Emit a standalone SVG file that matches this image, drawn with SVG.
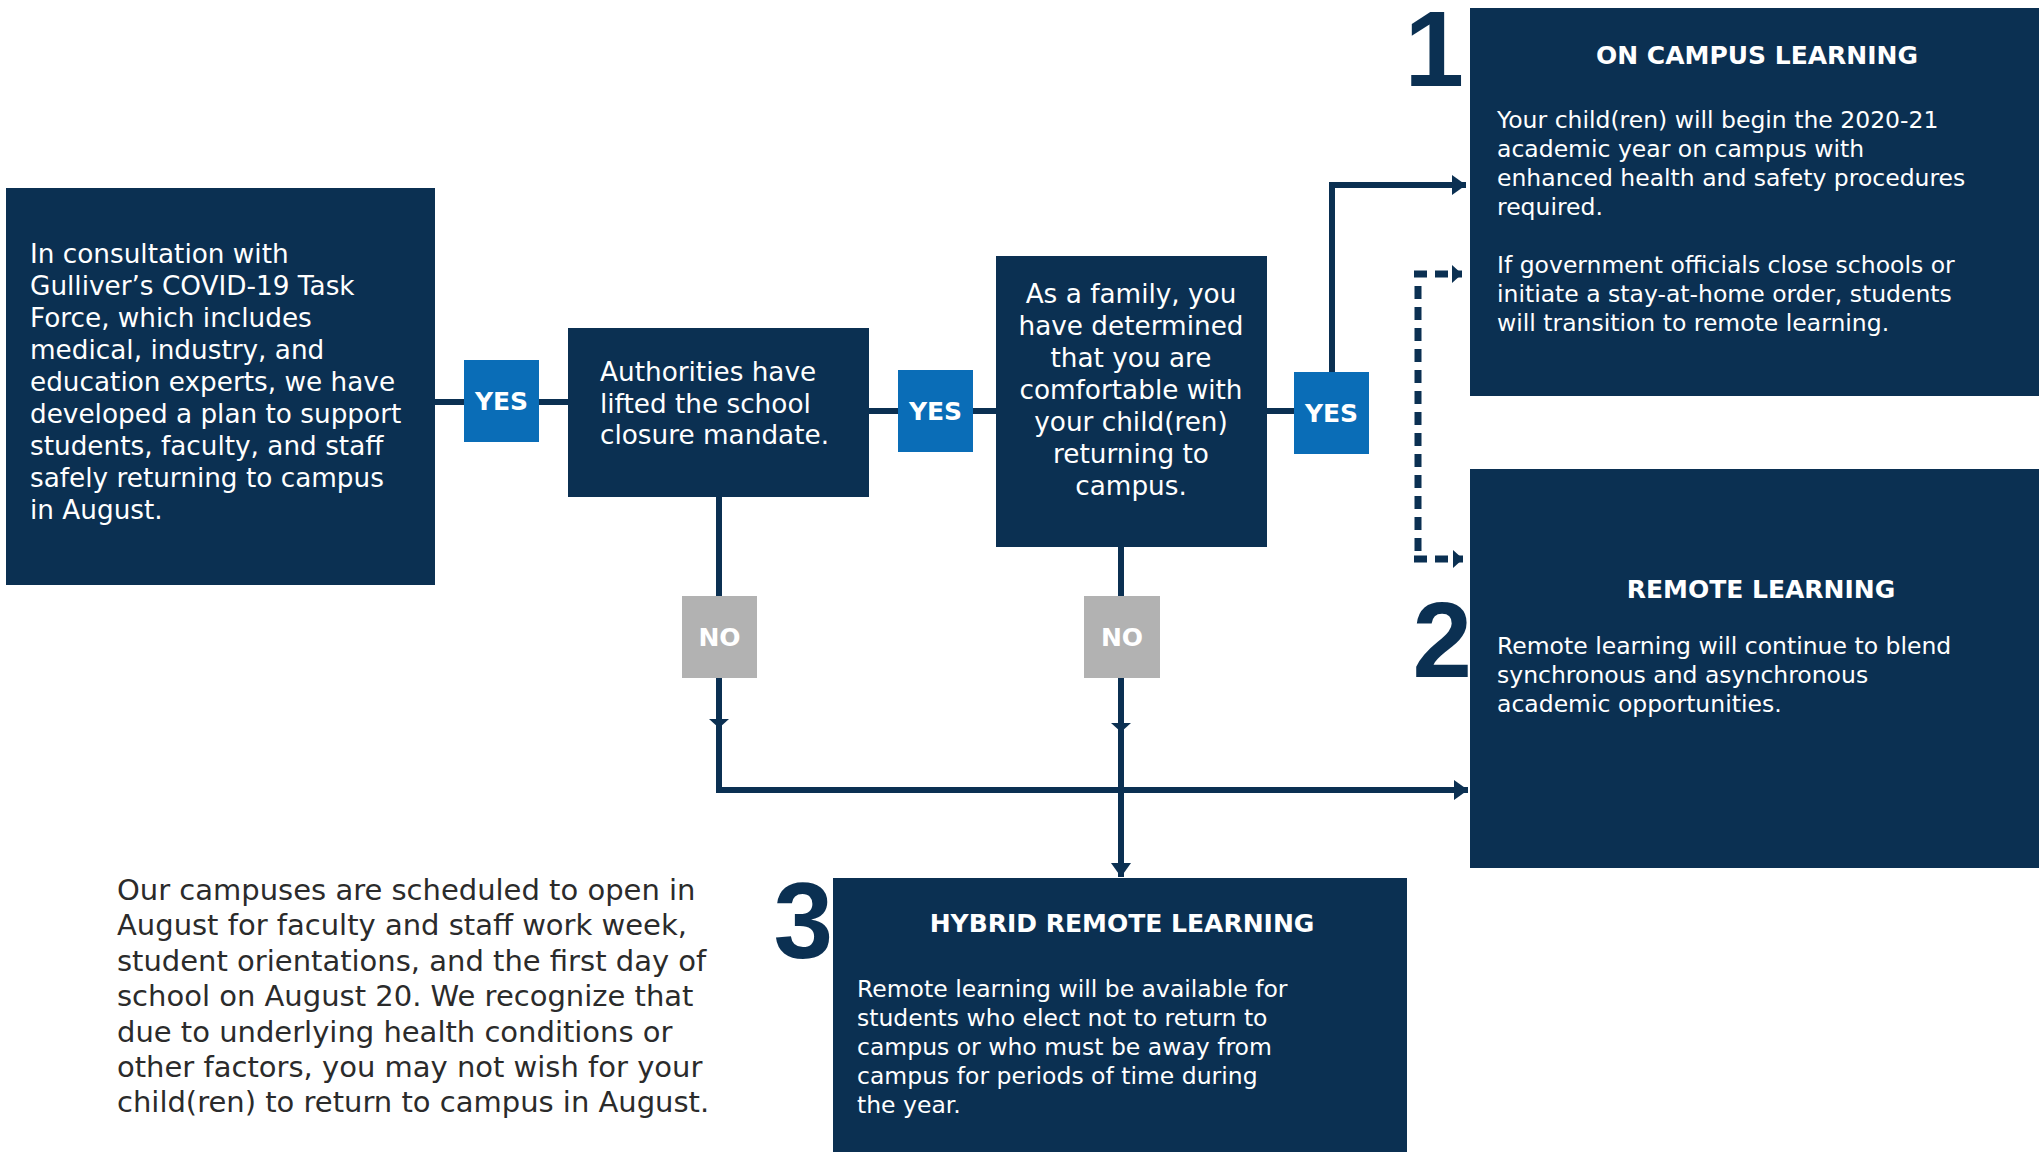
<svg xmlns="http://www.w3.org/2000/svg" width="2039" height="1152" viewBox="0 0 2039 1152">
<style>
.box{fill:#0b3052}
.yes{fill:#0a6db7}
.no{fill:#b2b2b2}
.t{font-family:"DejaVu Sans",sans-serif;fill:#ffffff}
.b26{font-size:26.3px}
.b23{font-size:23.5px}
.ttl{font-family:"DejaVu Sans",sans-serif;font-weight:bold;font-size:25px;fill:#ffffff;text-anchor:middle}
.lbl{font-family:"DejaVu Sans",sans-serif;font-weight:bold;font-size:25px;fill:#ffffff;text-anchor:middle}
.num{font-family:"Liberation Sans",Arial,sans-serif;font-weight:bold;font-size:107px;fill:#0b3052;text-anchor:end}
.para{font-family:"DejaVu Sans",sans-serif;font-size:29px;fill:#2b2b2b}
.ln{fill:none;stroke:#0b3052;stroke-width:6}
.dash{fill:none;stroke:#0b3052;stroke-width:7;stroke-dasharray:13 8}
</style>
<defs>
<marker id="ah" markerUnits="userSpaceOnUse" markerWidth="14" markerHeight="20" refX="14" refY="10" orient="auto">
<path d="M0,0 L14,10 L0,20 Z" fill="#0b3052"/>
</marker>
<marker id="ahs" markerUnits="userSpaceOnUse" markerWidth="10" markerHeight="18" refX="10" refY="9" orient="auto">
<path d="M0,0 L10,9 L0,18 Z" fill="#0b3052"/>
</marker>
<marker id="ahm" markerUnits="userSpaceOnUse" markerWidth="9" markerHeight="20" refX="9" refY="10" orient="auto">
<path d="M0,0 L9,10 L0,20 Z" fill="#0b3052"/>
</marker>
</defs>

<g id="connectors">
<path class="ln" d="M434,402 H568"/>
<path class="ln" d="M869,411 H996"/>
<path class="ln" d="M1267,411 H1294"/>
<path class="ln" d="M1332,372 V185 H1466" marker-end="url(#ah)"/>
<path class="ln" d="M719,497 V728" marker-end="url(#ahm)"/>
<path class="ln" d="M719,720 V790 H1468" marker-end="url(#ah)"/>
<path class="ln" d="M1121,546 V732" marker-end="url(#ahm)"/>
<path class="ln" d="M1121,724 V877" marker-end="url(#ah)"/>
<path class="dash" d="M1418,286 V552"/>
<path class="dash" d="M1414,274 H1462" marker-end="url(#ahs)"/>
<path class="dash" d="M1414,559 H1463" marker-end="url(#ahs)"/>
</g>

<g id="intro">
<rect class="box" x="6" y="188" width="429" height="397"/>
<text class="t b26" x="30" y="263">In consultation with</text>
<text class="t b26" x="30" y="295">Gulliver’s COVID-19 Task</text>
<text class="t b26" x="30" y="327">Force, which includes</text>
<text class="t b26" x="30" y="359">medical, industry, and</text>
<text class="t b26" x="30" y="391">education experts, we have</text>
<text class="t b26" x="30" y="423">developed a plan to support</text>
<text class="t b26" x="30" y="455">students, faculty, and staff</text>
<text class="t b26" x="30" y="487">safely returning to campus</text>
<text class="t b26" x="30" y="519">in August.</text>
</g>

<g id="yes1">
<rect class="yes" x="464" y="360" width="75" height="82"/>
<text class="lbl" x="501.5" y="410">YES</text>
</g>

<g id="authorities">
<rect class="box" x="568" y="328" width="301" height="169"/>
<text class="t b26" x="600" y="381">Authorities have</text>
<text class="t b26" x="600" y="413">lifted the school</text>
<text class="t b26" x="600" y="444">closure mandate.</text>
</g>

<g id="yes2">
<rect class="yes" x="898" y="370" width="75" height="82"/>
<text class="lbl" x="935.5" y="420">YES</text>
</g>

<g id="family">
<rect class="box" x="996" y="256" width="271" height="291"/>
<text class="t b26" x="1131" y="303" text-anchor="middle">As a family, you</text>
<text class="t b26" x="1131" y="335" text-anchor="middle">have determined</text>
<text class="t b26" x="1131" y="367" text-anchor="middle">that you are</text>
<text class="t b26" x="1131" y="399" text-anchor="middle">comfortable with</text>
<text class="t b26" x="1131" y="431" text-anchor="middle">your child(ren)</text>
<text class="t b26" x="1131" y="463" text-anchor="middle">returning to</text>
<text class="t b26" x="1131" y="495" text-anchor="middle">campus.</text>
</g>

<g id="yes3">
<rect class="yes" x="1294" y="372" width="75" height="82"/>
<text class="lbl" x="1331.5" y="422">YES</text>
</g>

<g id="no1">
<rect class="no" x="682" y="596" width="75" height="82"/>
<text class="lbl" x="719.5" y="646">NO</text>
</g>

<g id="no2">
<rect class="no" x="1084" y="596" width="76" height="82"/>
<text class="lbl" x="1122" y="646">NO</text>
</g>

<g id="oncampus">
<text class="num" x="1464" y="86">1</text>
<rect class="box" x="1470" y="8" width="569" height="388"/>
<text class="ttl" x="1757" y="64">ON CAMPUS LEARNING</text>
<text class="t b23" x="1497" y="128">Your child(ren) will begin the 2020-21</text>
<text class="t b23" x="1497" y="157">academic year on campus with</text>
<text class="t b23" x="1497" y="186">enhanced health and safety procedures</text>
<text class="t b23" x="1497" y="215">required.</text>
<text class="t b23" x="1497" y="273">If government officials close schools or</text>
<text class="t b23" x="1497" y="302">initiate a stay-at-home order, students</text>
<text class="t b23" x="1497" y="331">will transition to remote learning.</text>
</g>

<g id="remote">
<text class="num" x="1472" y="677">2</text>
<rect class="box" x="1470" y="469" width="569" height="399"/>
<text class="ttl" x="1761" y="598">REMOTE LEARNING</text>
<text class="t b23" x="1497" y="654">Remote learning will continue to blend</text>
<text class="t b23" x="1497" y="683">synchronous and asynchronous</text>
<text class="t b23" x="1497" y="712">academic opportunities.</text>
</g>

<g id="hybrid">
<text class="num" x="833" y="958">3</text>
<rect class="box" x="833" y="878" width="574" height="274"/>
<text class="ttl" x="1122" y="932">HYBRID REMOTE LEARNING</text>
<text class="t b23" x="857" y="997">Remote learning will be available for</text>
<text class="t b23" x="857" y="1026">students who elect not to return to</text>
<text class="t b23" x="857" y="1055">campus or who must be away from</text>
<text class="t b23" x="857" y="1084">campus for periods of time during</text>
<text class="t b23" x="857" y="1113">the year.</text>
</g>

<g id="note">
<text class="para" x="117" y="900">Our campuses are scheduled to open in</text>
<text class="para" x="117" y="935">August for faculty and staff work week,</text>
<text class="para" x="117" y="971">student orientations, and the first day of</text>
<text class="para" x="117" y="1006">school on August 20. We recognize that</text>
<text class="para" x="117" y="1042">due to underlying health conditions or</text>
<text class="para" x="117" y="1077">other factors, you may not wish for your</text>
<text class="para" x="117" y="1112">child(ren) to return to campus in August.</text>
</g>
</svg>
